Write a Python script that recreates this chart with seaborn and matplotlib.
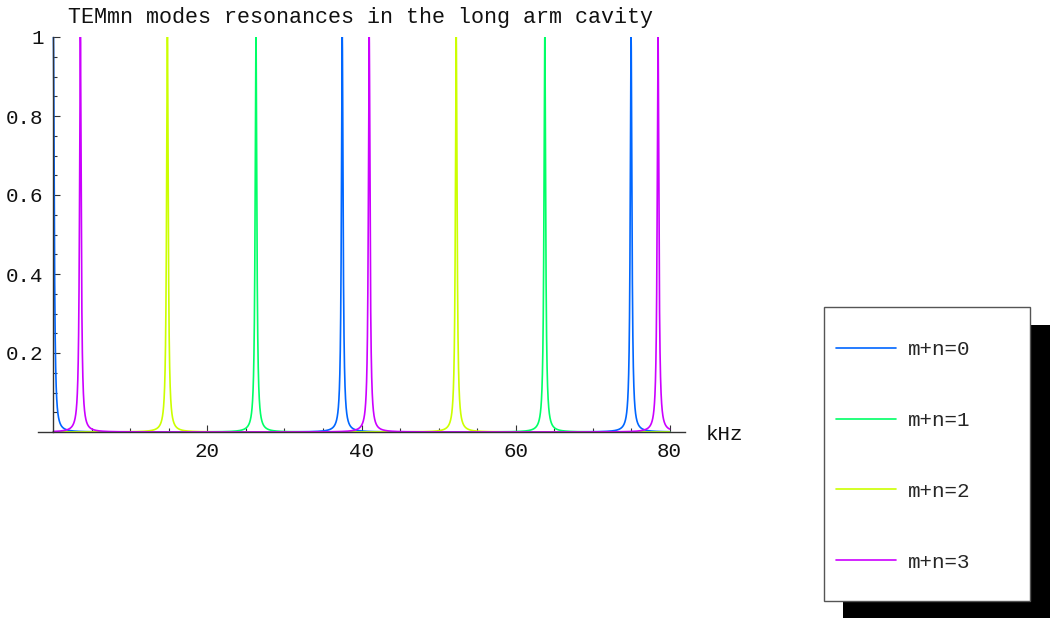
import numpy as np
import pandas as pd
import matplotlib
matplotlib.use("Agg")
import matplotlib.pyplot as plt
from matplotlib.patches import Rectangle
import seaborn as sns

# resonance positions (kHz), one list per mode order
modes = ["m+n=0", "m+n=1", "m+n=2", "m+n=3"]
peaks_0 = [0.0, 37.5, 75.0]
peaks_1 = [26.3, 63.8]
peaks_2 = [14.8, 52.3]
peaks_3 = [3.5, 41.0, 78.5]
half_width = 0.13  # kHz, lorentzian half width
colors = ["#0066ff", "#00ff66", "#ccff00", "#cc00ff"]

freq = np.linspace(0, 80, 24001)
rows = []
for name, pk in zip(modes, [peaks_0, peaks_1, peaks_2, peaks_3]):
    t = np.zeros_like(freq)
    for p in pk:
        t += 1.0 / (1.0 + ((freq - p) / half_width) ** 2)
    rows.append(pd.DataFrame({"kHz": freq, "T": np.clip(t, 0, 1), "mode": name}))
df = pd.concat(rows, ignore_index=True)

sns.set_style("white")
plt.rcParams["font.family"] = ["Liberation Mono", "DejaVu Sans Mono"]

W, H = 1053, 618
fig = plt.figure(figsize=(W / 100, H / 100), dpi=100)
ax = fig.add_axes([38 / W, 1 - 432 / H, 647 / W, 395 / H])

sns.lineplot(data=df, x="kHz", y="T", hue="mode", palette=dict(zip(modes, colors)),
             estimator=None, sort=False, linewidth=1.2, ax=ax)

ax.set_xlim(-2, 82)
ax.set_ylim(0, 1)
ax.set_xlabel("")
ax.set_ylabel("")

for s in ["top", "right"]:
    ax.spines[s].set_visible(False)
ax.spines["left"].set_position(("data", 0))
ax.spines["bottom"].set_position(("data", 0))
for s in ["left", "bottom"]:
    ax.spines[s].set_color("#333333")
    ax.spines[s].set_linewidth(1.0)

ax.set_xticks([20, 40, 60, 80])
ax.set_xticklabels(["20", "40", "60", "80"])
ax.set_xticks([x for x in range(5, 80, 5) if x % 20], minor=True)
ax.set_yticks([0.2, 0.4, 0.6, 0.8, 1.0])
ax.set_yticklabels(["0.2", "0.4", "0.6", "0.8", "1"])
ax.set_yticks([y / 100 for y in range(5, 100, 5) if y % 20], minor=True)
ax.tick_params(which="both", direction="in", color="#333333", labelsize=15,
               labelcolor="#111111", width=0.8, bottom=True, left=True)
ax.tick_params(which="major", length=5, pad=7)
ax.tick_params(which="minor", length=3)
ax.grid(False)

fig.text(360 / W, 1 - 18 / H, "TEMmn modes resonances in the long arm cavity",
         ha="center", va="center", fontsize=15.7, color="#111111")
fig.text(706 / W, 1 - 434 / H, "kHz", ha="left", va="center", fontsize=15, color="#111111")

# legend box with hard black shadow
handles, labels = ax.get_legend_handles_labels()
ax.get_legend().remove()
fig.add_artist(Rectangle((843 / W, 1 - 618 / H), 207 / W, 293 / H,
                         transform=fig.transFigure, facecolor="black", edgecolor="none", zorder=1))
fig.add_artist(Rectangle((824 / W, 1 - 601 / H), 206 / W, 294 / H,
                         transform=fig.transFigure, facecolor="white", edgecolor="#555555",
                         linewidth=1.0, zorder=2))
leg = fig.legend(handles, labels, loc="upper left", bbox_to_anchor=(836 / W, 1 - 340 / H),
                 frameon=False, fontsize=15, borderpad=0, borderaxespad=0,
                 handlelength=2.88, handletextpad=0.58, labelspacing=2.49)
leg.set_zorder(3)
for line in leg.get_lines():
    line.set_linewidth(1.2)

fig.savefig("out.png", dpi=100)
